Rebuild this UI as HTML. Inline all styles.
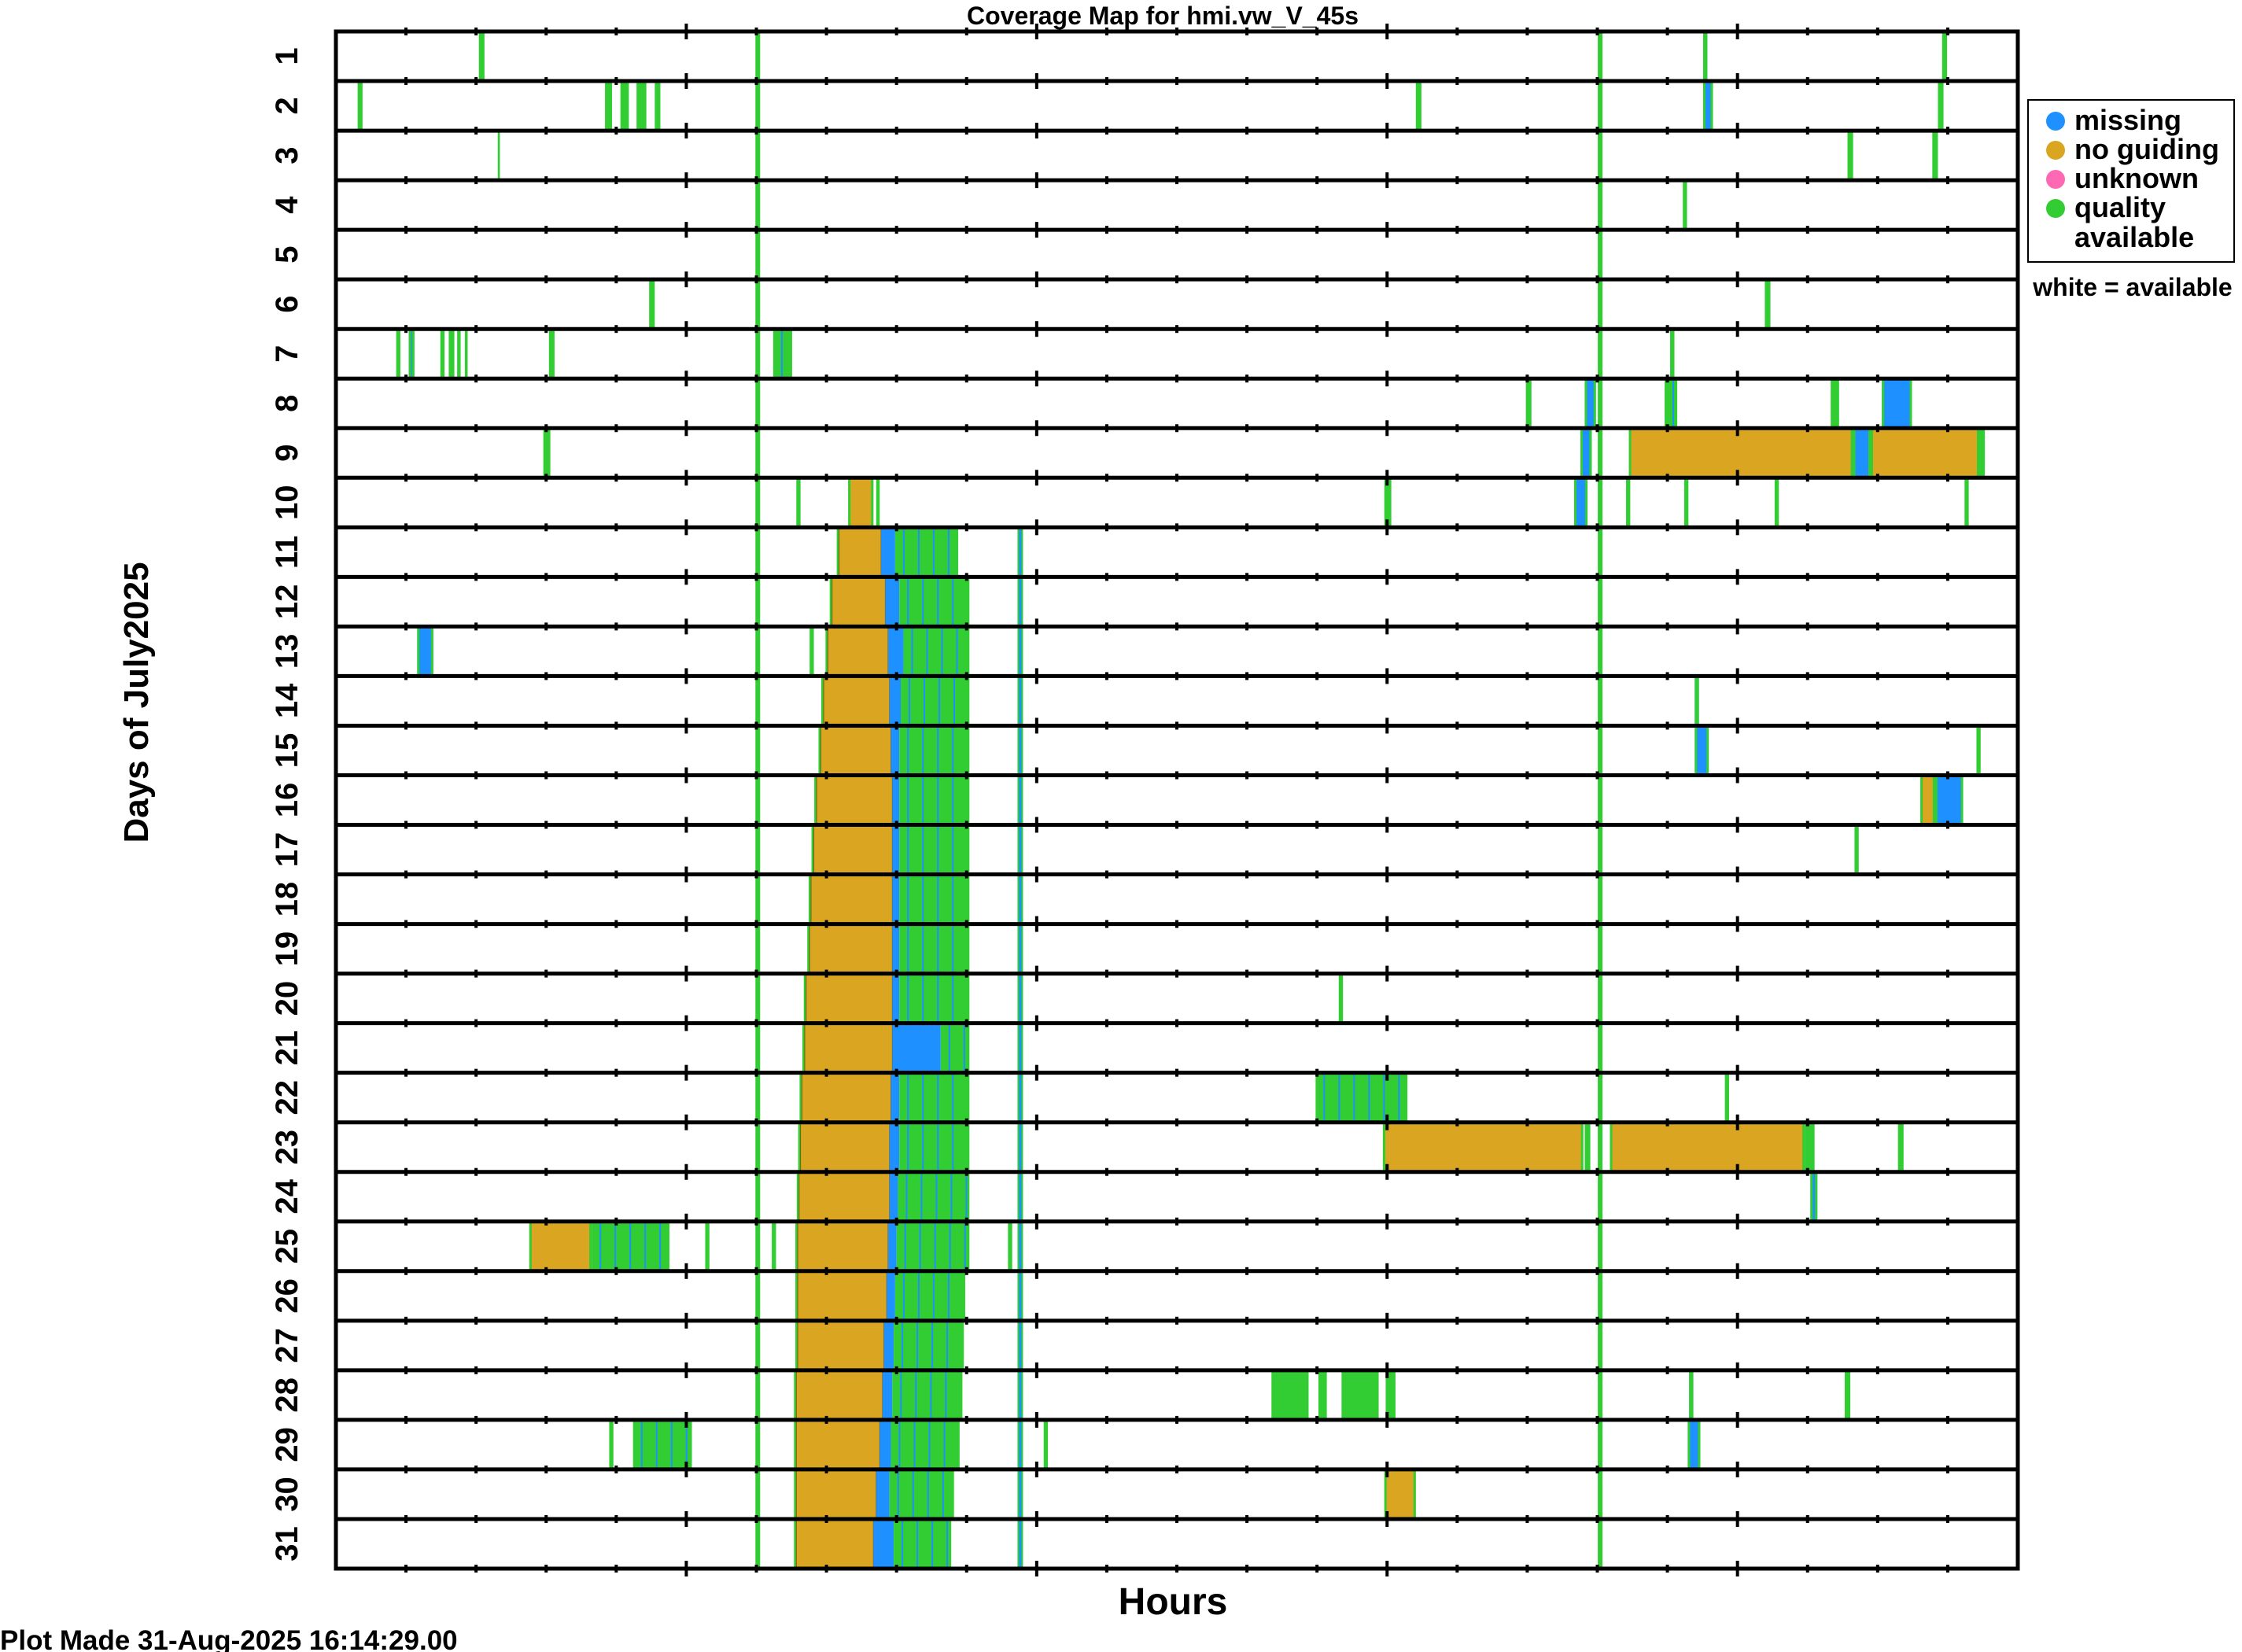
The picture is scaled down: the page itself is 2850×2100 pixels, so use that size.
<!DOCTYPE html>
<html><head><meta charset="utf-8"><style>
html,body{margin:0;padding:0;background:#fff;}
svg{display:block;font-family:"Liberation Sans",Arial,sans-serif;}
</style></head><body>
<svg id="chart" width="2850" height="2100" viewBox="0 0 2850 2100" xmlns="http://www.w3.org/2000/svg">
<text x="1478" y="31" font-size="32" font-weight="bold" text-anchor="middle">Coverage Map for hmi.vw_V_45s</text>
<g id="marks"></g>
<g id="grid"></g>
<g id="ylabels"></g>
<text transform="translate(188,893) rotate(-90)" font-size="44" font-weight="bold" text-anchor="middle">Days of July2025</text>
<text x="1491" y="2052" font-size="48" font-weight="bold" text-anchor="middle">Hours</text>
<text x="0" y="2097" font-size="35" font-weight="bold">Plot Made 31-Aug-2025 16:14:29.00</text>
<g>
<rect x="2578" y="127" width="262" height="206" fill="#fff" stroke="#000" stroke-width="2"/>
<g><circle cx="2613" cy="154" r="12" fill="#1E90FF"/><text x="2637" y="165" font-size="36" font-weight="bold">missing</text></g>
<g><circle cx="2613" cy="191" r="12" fill="#DAA520"/><text x="2637" y="202" font-size="36" font-weight="bold">no guiding</text></g>
<g><circle cx="2613" cy="228" r="12" fill="#FF69B4"/><text x="2637" y="239" font-size="36" font-weight="bold">unknown</text></g>
<g><circle cx="2613" cy="265" r="12" fill="#32CD32"/><text x="2637" y="276" font-size="36" font-weight="bold">quality</text><text x="2637" y="314" font-size="36" font-weight="bold">available</text></g>
</g>
<text x="2711" y="376" font-size="32" font-weight="bold" text-anchor="middle">white = available</text>
</svg>
<script>
const days = [];
for (let d = 1; d <= 31; d++) days.push(d);
const allDayLinesH = [6.02, 18.04];
const lateLineH = 9.76;
const mainDays = [11,12,13,14,15,16,17,18,19,20,21,22,23,24,25,26,27,28,29,30,31];
const mainGoldStart = [7.18,7.08,7.02,6.96,6.92,6.86,6.82,6.78,6.76,6.71,6.69,6.65,6.63,6.61,6.59,6.59,6.59,6.57,6.57,6.57,6.57];
const mainGoldEnd = [7.78,7.84,7.88,7.90,7.92,7.94,7.94,7.94,7.94,7.94,7.94,7.92,7.90,7.90,7.88,7.86,7.82,7.80,7.76,7.71,7.67];
const mainBlueEnd = [7.98,8.04,8.10,8.06,8.04,8.04,8.04,8.04,8.04,8.04,8.63,8.04,8.04,8.02,8.00,7.98,7.96,7.94,7.92,7.90,7.96];
const mainGreenEnd = [8.88,9.04,9.04,9.04,9.04,9.04,9.04,9.04,9.04,9.04,9.04,9.04,9.04,9.04,9.04,8.98,8.96,8.94,8.90,8.82,8.78];
// [day, startHour, endHour, kind]  g=quality, b=missing, o=no guiding, s=mixed stripes
const segDay = [1,1,1, 2,2,2,2,2,2,2,2, 3,3,3, 4, 6,6, 7,7,7,7,7,7,7,7,7, 8,8,8,8,8, 9,9,9,9,9,9, 10,10,10,10,10,10,10,10,10, 13,13, 14, 15,15, 16,16, 17, 20, 22,22, 23,23,23,23,23, 24, 25,25,25,25,25, 28,28,28,28,28,28, 29,29,29,29, 30];
const segStart = [2.04,19.51,22.92, 0.31,3.84,4.06,4.29,4.55,15.41,19.51,22.86, 2.31,21.57,22.78, 19.22, 4.47,20.39, 0.86,1.04,1.49,1.61,1.73,1.84,3.04,6.24,19.04, 16.98,17.82,18.96,21.33,22.06, 2.96,17.76,18.45,21.65,21.90,23.45, 6.57,7.31,7.71,14.96,17.67,18.41,19.24,20.53,23.24, 1.16,6.76, 19.39, 19.39,23.41, 22.61,22.82, 21.67, 14.31, 13.98,19.82, 14.94,17.82,18.18,20.96,22.29, 21.04, 2.76,3.65,5.27,6.22,9.59, 13.35,14.02,14.35,14.98,19.31,21.53, 3.90,4.24,10.10,19.29, 14.96];
const segEnd = [2.12,19.57,22.99, 0.38,3.94,4.18,4.43,4.63,15.49,19.65,22.94, 2.34,21.65,22.86, 19.28, 4.55,20.47, 0.92,1.12,1.55,1.69,1.78,1.88,3.12,6.51,19.10, 17.06,17.98,19.14,21.45,22.49, 3.06,17.92,21.65,21.90,23.45,23.53, 6.63,7.67,7.76,15.06,17.86,18.47,19.30,20.59,23.30, 1.39,6.82, 19.45, 19.59,23.47, 22.82,23.22, 21.73, 14.37, 15.29,19.88, 17.80,17.90,20.96,21.10,22.37, 21.14, 3.65,4.76,5.33,6.28,9.65, 13.88,14.14,14.88,15.12,19.37,21.61, 3.96,5.08,10.16,19.47, 15.41];
const segKind = ['g','b','g', 'g','g','g','g','g','g','b','g', 'g','g','g', 'g', 'g','g', 'g','b','g','g','g','g','g','s','b', 'g','b','s','s','b', 'g','b','o','b','o','g', 'g','o','g','g','b','g','g','g','g', 'b','g', 'b', 'b','g', 'o','b', 'g', 'g', 's','g', 'o','g','o','s','g', 'b', 'o','s','g','g','g', 'g','g','g','g','b','g', 'g','s','g','b', 'o'];

const NS = 'http://www.w3.org/2000/svg';
const L = 427, R = 2565, T = 40, B = 1994;
const rowH = (B - T) / 31;
const COL = {g:'#32CD32', b:'#1E90FF', o:'#DAA520'};
function xOf(h){ return L + h / 24 * (R - L); }
function yOf(day){ return T + (day - 1) * rowH; }
const marks = document.getElementById('marks');
function rect(x, y, w, h, fill, name){
  const r = document.createElementNS(NS, 'rect');
  r.setAttribute('x', x); r.setAttribute('y', y);
  r.setAttribute('width', Math.max(w, 2)); r.setAttribute('height', h);
  r.setAttribute('fill', fill);
  
  
  marks.appendChild(r);
  return r;
}
function stripes(day, h0, h1, name){
  const y = yOf(day), x0 = xOf(h0), x1 = xOf(h1);
  rect(x0, y, x1 - x0, rowH, COL.g, name);
  for (let x = x0 + 10; x < x1 - 4; x += 19) rect(x, y, 2, rowH, COL.b, name + '-stripe');
}
for (let i = 0; i < segDay.length; i++){
  const d = segDay[i], k = segKind[i];
  if (k === 's') { stripes(d, segStart[i], segEnd[i], 'segment-day' + d); continue; }
  const x0 = xOf(segStart[i]), x1 = xOf(segEnd[i]);
  rect(x0, yOf(d), x1 - x0, rowH, COL[k], 'segment-day' + d);
  if (k !== 'g') { rect(x0, yOf(d), 3, rowH, COL.g, 'segment-edge'); rect(x1 - 3, yOf(d), 3, rowH, COL.g, 'segment-edge'); }
}
for (let i = 0; i < mainDays.length; i++){
  const d = mainDays[i], y = yOf(d);
  const gs = xOf(mainGoldStart[i]), ge = xOf(mainGoldEnd[i]), be = xOf(mainBlueEnd[i]);
  rect(gs - 3, y, 3, rowH, COL.g, 'gold-edge');
  const g = rect(gs, y + 1, ge - gs, rowH - 1, COL.o, 'no-guiding-block-day' + d);
  g.setAttribute('stroke', '#7a5a10'); g.setAttribute('stroke-width', '1');
  rect(ge, y, be - ge, rowH, COL.b, 'missing-block-day' + d);
  stripes(d, mainBlueEnd[i], mainGreenEnd[i], 'quality-stripes-day' + d);
  const lx = xOf(lateLineH);
  rect(lx - 3, y, 7, rowH, COL.g, 'late-line-edge');
  rect(lx - 1, y, 3, rowH, COL.b, 'late-line-day' + d);
}
for (const h of allDayLinesH){
  const x = xOf(h);
  rect(x - 3, T, 6, B - T, COL.g, 'persistent-quality-line');
}
const grid = document.getElementById('grid');
for (let k = 0; k <= 31; k++){
  const y = T + k * rowH;
  const ln = document.createElementNS(NS, 'line');
  ln.setAttribute('x1', L); ln.setAttribute('x2', R);
  ln.setAttribute('y1', y); ln.setAttribute('y2', y);
  ln.setAttribute('stroke', '#000'); ln.setAttribute('stroke-width', 5);
  
  
  grid.appendChild(ln);
  for (let h = 1; h < 24; h++){
    const x = xOf(h), big = h % 5 === 0;
    const t = document.createElementNS(NS, 'line');
    t.setAttribute('x1', x); t.setAttribute('x2', x);
    t.setAttribute('y1', y - (big ? 10 : 5)); t.setAttribute('y2', y + (big ? 10 : 5));
    t.setAttribute('stroke', '#000'); t.setAttribute('stroke-width', 4);
    
    
    grid.appendChild(t);
  }
}
const frame = document.createElementNS(NS, 'rect');
frame.setAttribute('x', L); frame.setAttribute('y', T);
frame.setAttribute('width', R - L); frame.setAttribute('height', B - T);
frame.setAttribute('fill', 'none'); frame.setAttribute('stroke', '#000'); frame.setAttribute('stroke-width', 5);


grid.appendChild(frame);
const yl = document.getElementById('ylabels');
for (const d of days){
  const cy = yOf(d) + rowH / 2;
  const t = document.createElementNS(NS, 'text');
  t.setAttribute('transform', 'translate(378,' + cy + ') rotate(-90)');
  t.setAttribute('text-anchor', 'middle');
  t.setAttribute('font-size', '40');
  t.setAttribute('font-weight', 'bold');
  t.textContent = d;
  
  
  yl.appendChild(t);
}
</script>
</body></html>
